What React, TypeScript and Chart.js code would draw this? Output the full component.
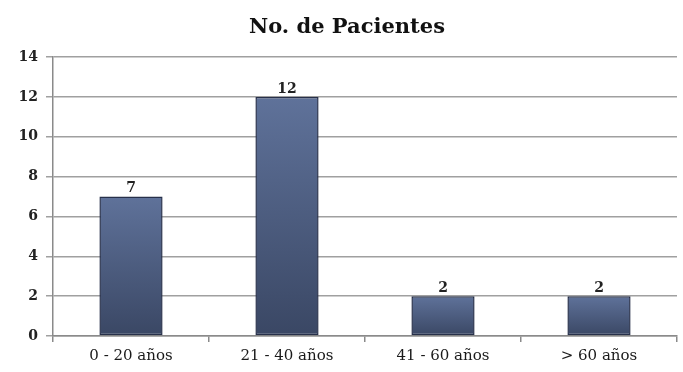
import React, { useEffect, useRef } from "react";
import { Chart, registerables } from "chart.js";

Chart.register(...registerables);

const categories = ["0 - 20 años", "21 - 40 años", "41 - 60 años", "> 60 años"];
const patients = [7, 12, 2, 2];
const chartTitle = "No. de Pacientes";
const yMin = 0;
const yMax = 14;
const yStep = 2;

const SERIF = "'DejaVu Serif', 'Liberation Serif', serif";

// Writes each bar's value just above it.
const valueLabels = {
  id: "valueLabels",
  afterDatasetsDraw(chart: any) {
    const { ctx } = chart;
    const meta = chart.getDatasetMeta(0);
    const data = chart.data.datasets[0].data as number[];
    ctx.save();
    ctx.font = `bold 14px ${SERIF}`;
    ctx.fillStyle = "#222";
    ctx.textAlign = "center";
    ctx.textBaseline = "bottom";
    meta.data.forEach((bar: any, i: number) => {
      ctx.fillText(String(data[i]), bar.x, bar.y - 1);
    });
    ctx.restore();
  },
};

export default function App() {
  const canvasRef = useRef<HTMLCanvasElement | null>(null);

  useEffect(() => {
    const canvas = canvasRef.current;
    if (!canvas) return;
    const chart = new Chart(canvas, {
      type: "bar",
      data: {
        labels: categories,
        datasets: [
          {
            data: patients,
            backgroundColor: (c: any) => {
              const ch = c.chart;
              const y = ch.scales && ch.scales.y;
              if (!y || c.type !== "data") return "#4d5f82";
              const top = y.getPixelForValue(c.raw);
              const base = y.getPixelForValue(0);
              if (!Number.isFinite(top) || !Number.isFinite(base) || top === base) return "#4d5f82";
              const g = ch.ctx.createLinearGradient(0, top, 0, base);
              g.addColorStop(0, "#5f729a");
              g.addColorStop(1, "#3a4764");
              return g;
            },
            borderColor: "#27304a",
            borderWidth: 1.5,
            borderSkipped: false,
            categoryPercentage: 1,
            barPercentage: 0.405,
          },
        ],
      },
      options: {
        responsive: false,
        animation: false,
        layout: { padding: { left: 17, right: 6, top: 0, bottom: 0 } },
        plugins: {
          legend: { display: false },
          tooltip: { enabled: false },
          title: {
            display: true,
            text: chartTitle,
            color: "#111",
            font: { family: SERIF, size: 21, weight: "bold" },
            padding: { top: 15, bottom: 17 },
          },
        },
        scales: {
          x: {
            grid: {
              display: true,
              drawOnChartArea: false,
              drawTicks: true,
              tickLength: 6,
              offset: true,
              color: "#8a8a8a",
              lineWidth: 1.5,
            },
            border: { display: true, color: "#8a8a8a", width: 1.5 },
            ticks: {
              color: "#1a1a1a",
              font: { family: SERIF, size: 15 },
              padding: 5,
            },
            afterFit: (s: any) => {
              s.height = 36;
            },
          },
          y: {
            min: yMin,
            max: yMax,
            ticks: {
              stepSize: yStep,
              color: "#222",
              font: { family: SERIF, size: 14, weight: "bold" },
              padding: 8,
            },
            grid: {
              color: "#a0a0a0",
              lineWidth: 1.5,
              tickLength: 7,
            },
            border: { display: true, color: "#8a8a8a", width: 1.5 },
            afterFit: (s: any) => {
              s.width = 36;
            },
          },
        },
      },
      plugins: [valueLabels],
    });
    return () => chart.destroy();
  }, []);

  return (
    <div style={{ position: "fixed", left: 0, top: 0, width: 683, height: 372, background: "#fff" }}>
      <canvas ref={canvasRef} width={683} height={372} />
    </div>
  );
}
